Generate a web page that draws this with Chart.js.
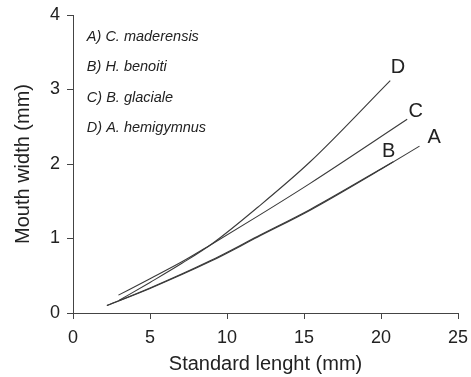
<!DOCTYPE html>
<html>
<head>
<meta charset="utf-8">
<script src="https://cdn.jsdelivr.net/npm/chart.js@4"></script>
<style>
  html, body { margin: 0; padding: 0; background: #fff; }
  #wrap { width: 471px; height: 377px; }
</style>
</head>
<body>
<div id="wrap"><canvas id="grafico" width="471" height="377"></canvas></div>
<script>
// valores
const xA = [2.2, 5, 8.9, 12, 15.4, 20, 22.5];
const yA = [0.10, 0.33, 0.69, 1.02, 1.38, 1.93, 2.24];
const xB = [2.2, 5, 8.9, 12, 15.4, 20.8];
const yB = [0.10, 0.335, 0.70, 1.03, 1.39, 2.03];
const xC = [2.95, 5, 7.1, 8.9, 12, 15.4, 21.7];
const yC = [0.24, 0.46, 0.69, 0.91, 1.30, 1.74, 2.60];
const xD = [3.0, 5, 7.1, 9.1, 12, 15.4, 20.6];
const yD = [0.17, 0.41, 0.67, 0.94, 1.42, 2.03, 3.12];

const legendItems = ['A) C. maderensis', 'B) H. benoiti', 'C) B. glaciale', 'D) A. hemigymnus'];
const legendY = [3.71, 3.30, 2.89, 2.49];
const endLabels = ['A', 'B', 'C', 'D'];
const endX = [23.45, 20.5, 22.25, 21.1];
const endY = [2.36, 2.17, 2.70, 3.30];

const xTicks = [0, 5, 10, 15, 20, 25];
const yTicks = [0, 1, 2, 3, 4];

const fonte = '"Liberation Sans", Arial, sans-serif';
const cor = '#222';

function pontos(xs, ys) {
    return xs.map((x, i) => ({ x: x, y: ys[i] }));
}

function serie(xs, ys) {
    return {
        data: pontos(xs, ys),
        showLine: true,
        borderColor: '#3a3a3a',
        borderWidth: 1.1,
        pointRadius: 0,
        cubicInterpolationMode: 'monotone',
        fill: false
    };
}

const textos = {
    id: 'textos',
    afterDatasetsDraw(chart) {
        const ctx = chart.ctx;
        const sx = chart.scales.x;
        const sy = chart.scales.y;
        ctx.save();
        ctx.fillStyle = cor;
        ctx.textBaseline = 'middle';
        ctx.textAlign = 'left';
        ctx.font = 'italic 14.5px ' + fonte;
        legendItems.forEach((t, i) => {
            ctx.fillText(t, sx.getPixelForValue(0.9), sy.getPixelForValue(legendY[i]));
        });
        ctx.textAlign = 'center';
        ctx.font = '20px ' + fonte;
        endLabels.forEach((t, i) => {
            ctx.fillText(t, sx.getPixelForValue(endX[i]), sy.getPixelForValue(endY[i]));
        });
        ctx.restore();
    }
};

document.addEventListener('DOMContentLoaded', () => {
    const ctx = document.getElementById('grafico').getContext('2d');
    new Chart(ctx, {
        type: 'scatter',
        data: {
            datasets: [serie(xA, yA), serie(xB, yB), serie(xC, yC), serie(xD, yD)]
        },
        options: {
            responsive: false,
            animation: false,
            layout: { padding: { top: 15, right: 13, left: 0, bottom: 0 } },
            plugins: {
                legend: { display: false },
                tooltip: { enabled: false }
            },
            scales: {
                x: {
                    type: 'linear',
                    min: 0,
                    max: 25,
                    afterBuildTicks: (s) => { s.ticks = xTicks.map(v => ({ value: v })); },
                    afterFit: (s) => { s.height = 64; s.paddingLeft = 0; s.paddingRight = 0; },
                    border: { display: true, color: '#444', width: 1 },
                    grid: { display: true, drawOnChartArea: false, drawTicks: true, tickLength: 6, color: '#444' },
                    ticks: { color: cor, padding: 8, font: { family: fonte, size: 18 } },
                    title: {
                        display: true,
                        text: 'Standard lenght (mm)',
                        color: cor,
                        font: { family: fonte, size: 20 },
                        padding: { top: 0, bottom: 1 }
                    }
                },
                y: {
                    type: 'linear',
                    min: 0,
                    max: 4,
                    afterBuildTicks: (s) => { s.ticks = yTicks.map(v => ({ value: v })); },
                    afterFit: (s) => { s.width = 73; s.paddingTop = 0; s.paddingBottom = 0; },
                    border: { display: true, color: '#444', width: 1 },
                    grid: { display: true, drawOnChartArea: false, drawTicks: true, tickLength: 6, color: '#444' },
                    ticks: { color: cor, padding: 7, font: { family: fonte, size: 18 } },
                    title: {
                        display: true,
                        text: 'Mouth width (mm)',
                        color: cor,
                        font: { family: fonte, size: 20 },
                        padding: { top: 11, bottom: 0 }
                    }
                }
            }
        },
        plugins: [textos]
    });
});
</script>
</body>
</html>
